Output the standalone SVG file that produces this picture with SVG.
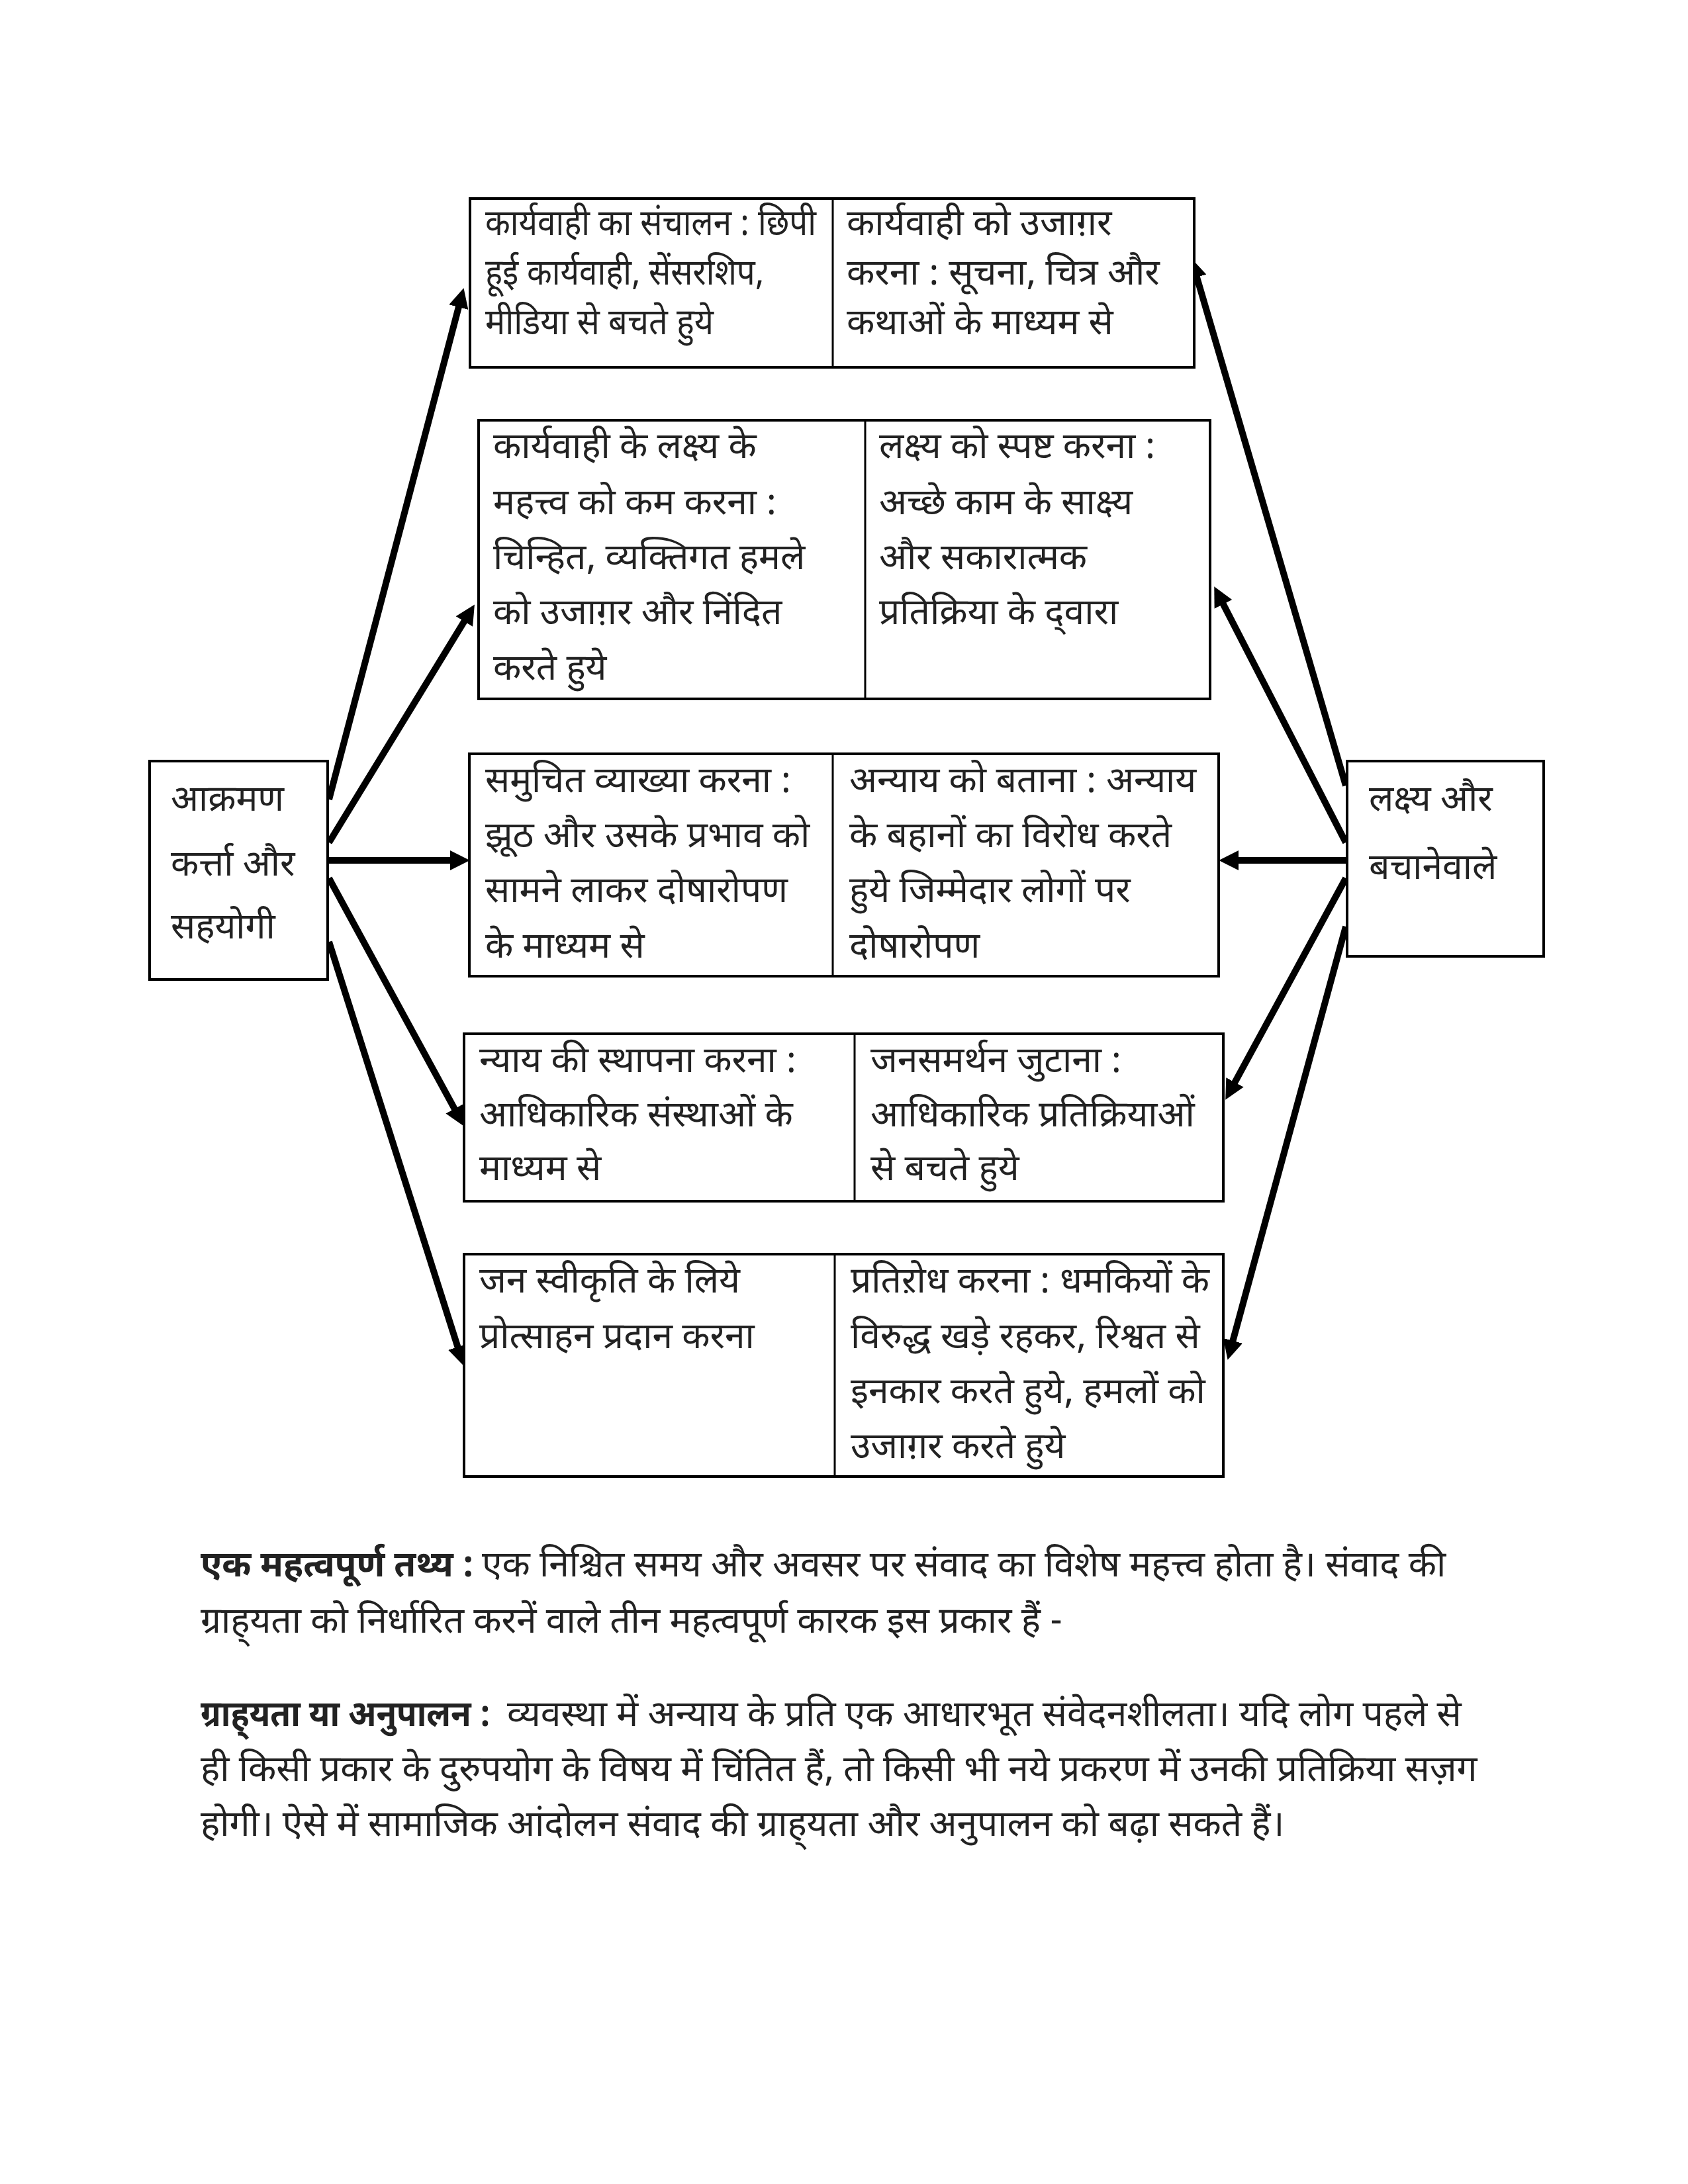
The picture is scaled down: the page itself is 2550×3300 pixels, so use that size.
<svg xmlns="http://www.w3.org/2000/svg" width="2550" height="3300" viewBox="0 0 2550 3300">
<style>
.box{fill:#fff;stroke:#000;stroke-width:4}
.dv{stroke:#000;stroke-width:3}
.t{font-family:"Noto Sans Devanagari","Noto Sans","Lohit Devanagari",sans-serif;font-size:55px;fill:#222}
.b{font-weight:bold}
.conn{stroke:#000;stroke-width:10;fill:none;marker-end:url(#ah)}
</style>
<defs>
<marker id="ah" markerUnits="userSpaceOnUse" markerWidth="30" markerHeight="30" viewBox="0 0 28 28" refX="2" refY="14" orient="auto">
<path d="M0,0 L28,14 L0,28 z" fill="#000"/>
</marker>
</defs>
<rect width="2550" height="3300" fill="#fff"/>

<g id="connectors">
<line class="conn" x1="497" y1="1208" x2="693.4" y2="462.1"/>
<line class="conn" x1="497" y1="1273" x2="702.4" y2="937.2"/>
<line class="conn" x1="497" y1="1300" x2="682" y2="1300"/>
<line class="conn" x1="497" y1="1327" x2="687.6" y2="1677.2"/>
<line class="conn" x1="497" y1="1423" x2="692.1" y2="2037.2"/>
<line class="conn" x1="2033" y1="1187" x2="1807.4" y2="416.9"/>
<line class="conn" x1="2033" y1="1273" x2="1847" y2="911.1"/>
<line class="conn" x1="2033" y1="1300" x2="1869" y2="1300"/>
<line class="conn" x1="2033" y1="1327" x2="1864.5" y2="1637.2"/>
<line class="conn" x1="2033" y1="1400" x2="1861.9" y2="2027.9"/>
</g>

<g id="attackers">
<rect class="box" x="226" y="1150" width="269" height="330"/>
<text class="t"><tspan x="258" y="1225">आक्रमण</tspan><tspan x="258" y="1323">कर्त्ता और</tspan><tspan x="258" y="1418">सहयोगी</tspan></text>
</g>

<g id="defenders">
<rect class="box" x="2035" y="1150" width="297" height="295"/>
<text class="t"><tspan x="2068" y="1225">लक्ष्य और</tspan><tspan x="2068" y="1328">बचानेवाले</tspan></text>
</g>

<g id="row1">
<rect class="box" x="710" y="300" width="1094" height="255"/>
<line class="dv" x1="1258" y1="300" x2="1258" y2="555"/>
<text class="t" x="733" y="355" textLength="500" lengthAdjust="spacingAndGlyphs">कार्यवाही का संचालन : छिपी</text>
<text class="t" x="733" y="430" textLength="421" lengthAdjust="spacingAndGlyphs">हूई कार्यवाही, सेंसरशिप,</text>
<text class="t" x="733" y="505" textLength="345" lengthAdjust="spacingAndGlyphs">मीडिया से बचते हुये</text>
<text class="t"><tspan x="1279" y="355">कार्यवाही को उजाग़र</tspan><tspan x="1279" y="430">करना : सूचना, चित्र और</tspan><tspan x="1279" y="505">कथाओं के माध्यम से</tspan></text>
</g>

<g id="row2">
<rect class="box" x="723" y="635" width="1105" height="421"/>
<line class="dv" x1="1307" y1="635" x2="1307" y2="1056"/>
<text class="t"><tspan x="745" y="692">कार्यवाही के लक्ष्य के</tspan><tspan x="745" y="777">महत्त्व को कम करना :</tspan><tspan x="745" y="860">चिन्हित, व्यक्तिगत हमले</tspan><tspan x="745" y="943">को उजाग़र और निंदित</tspan><tspan x="745" y="1027">करते हुये</tspan></text>
<text class="t"><tspan x="1328" y="692">लक्ष्य को स्पष्ट करना :</tspan><tspan x="1328" y="777">अच्छे काम के साक्ष्य</tspan><tspan x="1328" y="860">और सकारात्मक</tspan><tspan x="1328" y="943">प्रतिक्रिया के द्&#8204;वारा</tspan></text>
</g>

<g id="row3">
<rect class="box" x="709" y="1139" width="1132" height="336"/>
<line class="dv" x1="1258" y1="1139" x2="1258" y2="1475"/>
<text class="t"><tspan x="733" y="1197">समुचित व्याख्या करना :</tspan><tspan x="733" y="1280">झूठ और उसके प्रभाव को</tspan><tspan x="733" y="1363">सामने लाकर दोषारोपण</tspan><tspan x="733" y="1447">के माध्यम से</tspan></text>
<text class="t"><tspan x="1283" y="1197">अन्याय को बताना : अन्याय</tspan><tspan x="1283" y="1280">के बहानों का विरोध करते</tspan><tspan x="1283" y="1363">हुये जिम्मेदार लोगों पर</tspan><tspan x="1283" y="1447">दोषारोपण</tspan></text>
</g>

<g id="row4">
<rect class="box" x="701" y="1562" width="1147" height="253"/>
<line class="dv" x1="1291" y1="1562" x2="1291" y2="1815"/>
<text class="t"><tspan x="724" y="1620">न्याय की स्थापना करना :</tspan><tspan x="724" y="1702">आधिकारिक संस्थाओं के</tspan><tspan x="724" y="1783">माध्यम से</tspan></text>
<text class="t"><tspan x="1315" y="1620">जनसमर्थन जुटाना :</tspan><tspan x="1315" y="1702">आधिकारिक प्रतिक्रियाओं</tspan><tspan x="1315" y="1783">से बचते हुये</tspan></text>
</g>

<g id="row5">
<rect class="box" x="701" y="1895" width="1147" height="336"/>
<line class="dv" x1="1261" y1="1895" x2="1261" y2="2231"/>
<text class="t"><tspan x="724" y="1953">जन स्वीकृति के लिये</tspan><tspan x="724" y="2037">प्रोत्साहन प्रदान करना</tspan></text>
<text class="t"><tspan x="1285" y="1953">प्रतिऱोध करना : धमकियों के</tspan><tspan x="1285" y="2037">विरुद्ध खड़े रहकर, रिश्वत से</tspan><tspan x="1285" y="2120">इनकार करते हुये, हमलों को</tspan><tspan x="1285" y="2203">उजाग़र करते हुये</tspan></text>
</g>

<g id="notes">
<text class="t b" x="303" y="2382" textLength="413" lengthAdjust="spacingAndGlyphs">एक महत्वपूर्ण तथ्य :</text>
<text class="t" x="728" y="2382">एक निश्चित समय और अवसर पर संवाद का विशेष महत्त्व होता है। संवाद की</text>
<text class="t" x="303" y="2467">ग्राह्&#8204;यता को निर्धारित करनें वाले तीन महत्वपूर्ण कारक इस प्रकार हैं -</text>
<text class="t b" x="303" y="2608" textLength="438" lengthAdjust="spacingAndGlyphs">ग्राह्&#8204;यता या अनुपालन :</text>
<text class="t" x="766" y="2608">व्यवस्था में अन्याय के प्रति एक आधारभूत संवेदनशीलता। यदि लोग पहले से</text>
<text class="t"><tspan x="303" y="2691">ही किसी प्रकार के दुरुपयोग के विषय में चिंतित हैं, तो किसी भी नये प्रकरण में उनकी प्रतिक्रिया सज़ग</tspan><tspan x="303" y="2774">होगी। ऐसे में सामाजिक आंदोलन संवाद की ग्राह्&#8204;यता और अनुपालन को बढ़ा सकते हैं।</tspan></text>
</g>
</svg>
